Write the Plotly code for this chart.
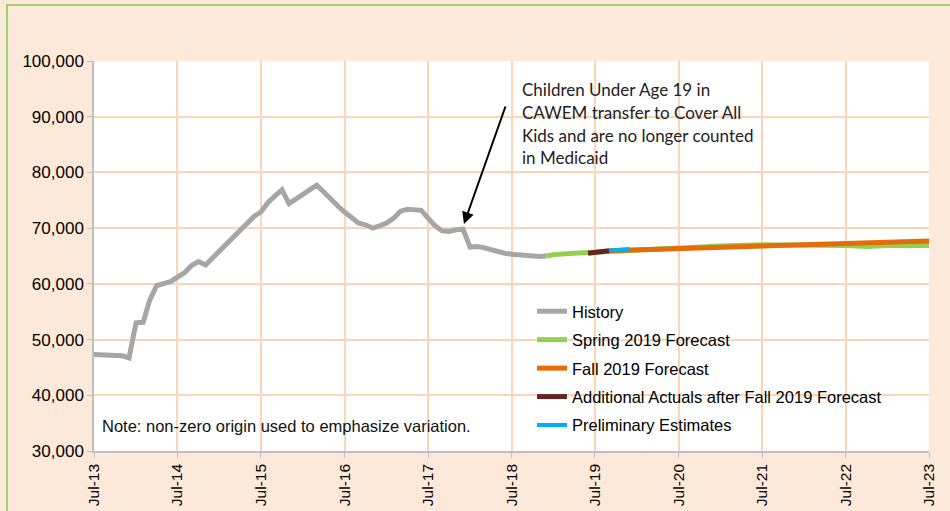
import pandas as pd
import plotly.graph_objects as go

# monthly history, Jul-13 .. Dec-18
history = [
    47300, 47250, 47200, 47000, 47100, 46700,
    53000, 53100, 57000, 59700, 60000, 60400,
    61200, 62000, 63300, 64000, 63400, 64600,
    65800, 67000, 68300, 69400, 70600, 72100,
    72900, 74600, 75800, 76900, 74400, 75200,
    75900, 76800, 77700, 76500, 75200, 74000,
    72900, 71900, 70900, 70600, 70000, 70400,
    70900, 71800, 73000, 73400, 73400, 73200,
    71800, 70400, 69500, 69400, 69700, 69800,
    66600, 66700, 66500, 66100, 65800, 65500,
    65300, 65200, 65000, 64900, 64900, 65000,
]
history_dates = pd.date_range("2013-07-01", periods=len(history), freq="MS")

spring_dates = ["2018-12-01", "2019-01-01", "2019-04-01", "2019-07-01", "2020-01-01",
                "2020-07-01", "2021-01-01", "2021-07-01", "2022-01-01", "2022-07-01",
                "2022-10-01", "2023-01-01", "2023-07-01"]
spring = [65000, 65250, 65500, 65700, 66200, 66500, 66800, 67000, 67000, 66900,
          66700, 66900, 66900]

fall_dates = ["2019-09-01", "2020-01-01", "2020-07-01", "2021-01-01", "2021-07-01",
              "2022-01-01", "2022-07-01", "2023-01-01", "2023-07-01"]
fall = [65950, 66100, 66300, 66500, 66750, 66950, 67150, 67400, 67700]

actual_dates = ["2019-06-01", "2019-07-01", "2019-08-01", "2019-09-01"]
actuals = [65500, 65650, 65800, 65950]

prelim_dates = ["2019-09-01", "2019-10-01", "2019-11-01", "2019-12-01"]
prelim = [66000, 66100, 66150, 66250]

note_lines = [
    "Children Under Age 19 in",
    "CAWEM transfer to Cover All",
    "Kids and are no longer counted",
    "in Medicaid",
]

PEACH = "#FDE9D9"
GRID = "#FCD5B4"

PL, PT, PW, PH = 94, 61, 835, 390  # plot box in screen pixels


def px_x(x):
    return (x - PL) / PW


def px_y(y):
    return (PT + PH - y) / PH


fig = go.Figure()
series = [
    ("History", history_dates, history, "#A6A6A6", 5),
    ("Spring 2019 Forecast", spring_dates, spring, "#92D050", 5),
    ("Fall 2019 Forecast", fall_dates, fall, "#E46C0A", 5),
    ("Additional Actuals after Fall 2019 Forecast", actual_dates, actuals, "#632523", 5),
    ("Preliminary Estimates", prelim_dates, prelim, "#00B0F0", 4),
]
for i, (name, xs, ys, col, w) in enumerate(series):
    fig.add_trace(go.Scatter(x=xs, y=ys, mode="lines", name=name, legendgroup=str(i),
                             line=dict(color=col, width=w)))

# white box behind legend, over the grid
fig.add_shape(type="rect", xref="paper", yref="paper", x0=px_x(511), x1=px_x(925),
              y0=px_y(440), y1=px_y(297), fillcolor="white", line_width=0, layer="between")
# outer frame
fig.add_shape(type="rect", xref="paper", yref="paper", x0=px_x(7), x1=2, y0=-1, y1=px_y(5),
              line=dict(color="#9BD36B", width=2), fillcolor="rgba(0,0,0,0)", layer="below")

fig.add_annotation(x="2017-12-05", y=70750, ax="2018-06-07", ay=92100, xref="x", yref="y",
                   axref="x", ayref="y", text="", showarrow=True, arrowhead=2, arrowsize=1.2,
                   arrowwidth=2, arrowcolor="black")
for k, line in enumerate(note_lines):
    fig.add_annotation(x=px_x(520), y=px_y(90 + 22.5 * k), xref="paper", yref="paper",
                       text=line, showarrow=False, xanchor="left", yanchor="middle",
                       font=dict(family="Lato", size=17, color="#222222"))
fig.add_annotation(x=px_x(100), y=px_y(426), xref="paper", yref="paper",
                   text="Note: non-zero origin used to emphasize variation.", showarrow=False,
                   xanchor="left", yanchor="middle",
                   font=dict(family="Liberation Sans", size=16.5, color="#111111"))

fig.update_xaxes(type="date", range=["2013-07-01", "2023-07-01"], tick0="2013-07-01", dtick="M12",
                 tickformat="%b-%y", tickangle=-90, showgrid=True, gridcolor=GRID, gridwidth=1.5,
                 showline=True, linecolor="#BFBFBF", linewidth=1.5, ticks="outside", ticklen=5,
                 tickcolor="#BFBFBF", automargin=False,
                 tickfont=dict(family="Liberation Sans", size=15.5, color="black"))
fig.update_yaxes(range=[30000, 100000], dtick=10000, tickformat=",", showgrid=True, gridcolor=GRID,
                 gridwidth=1.5, showline=True, linecolor="#BFBFBF", linewidth=1.5, ticks="outside",
                 ticklen=5, tickcolor="#BFBFBF", zeroline=False, automargin=False,
                 tickfont=dict(family="Liberation Sans", size=17, color="black"))

fig.update_layout(
    width=950, height=511,
    margin=dict(l=PL, r=950 - PL - PW, t=PT, b=511 - PT - PH, autoexpand=False),
    paper_bgcolor=PEACH, plot_bgcolor="white",
    showlegend=True,
    legend=dict(x=px_x(532), y=px_y(294), xanchor="left", yanchor="top",
                bgcolor="rgba(0,0,0,0)", tracegroupgap=4,
                font=dict(family="Liberation Sans", size=16.5, color="black")),
)

# drop the page's default 8px body margin so the figure sits at the window corner
fig.write_html("out.html", config={"displayModeBar": False},
               post_script="document.body.style.margin = '0px';")
